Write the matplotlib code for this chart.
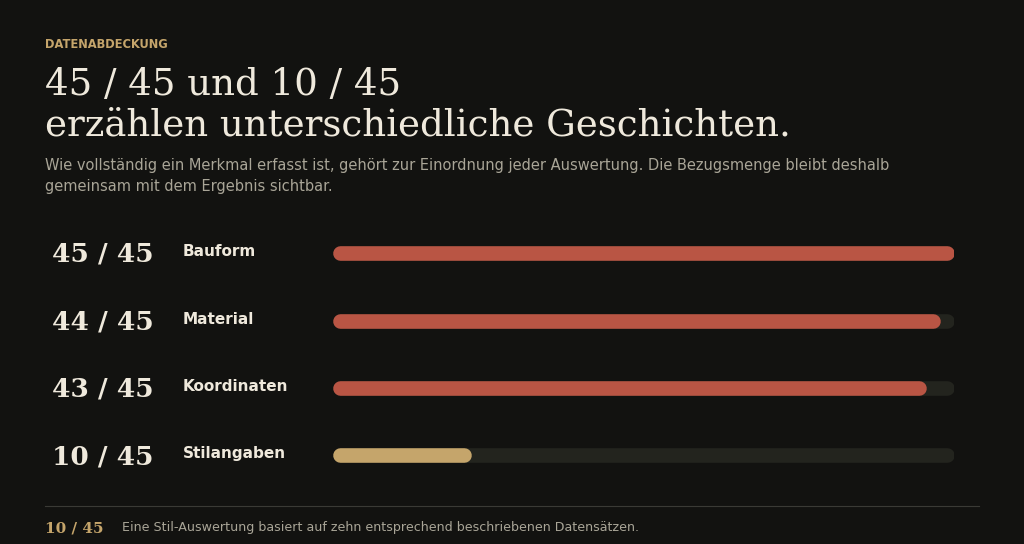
import matplotlib.pyplot as plt
from matplotlib.transforms import blended_transform_factory

plt.rcParams["font.family"] = "DejaVu Sans"

# daten
merkmale = ["Bauform", "Material", "Koordinaten", "Stilangaben"]
erfasst = [45, 44, 43, 10]
gesamt = 45
farben = ["#b95544", "#b95544", "#b95544", "#c5a56b"]

bg = "#121210"
creme = "#efe9dc"
grau = "#a9a597"
gold = "#c5a56b"
spur = "#23241e"

fig = plt.figure(figsize=(10.24, 5.44), dpi=100, facecolor=bg)

# kopfzeile
fig.text(45/1024, 1-44/544, "DATENABDECKUNG", color=gold, fontsize=8.3,
         fontweight="bold", va="center", ha="left")
fig.text(45/1024, 1-95/544, "45 / 45 und 10 / 45", color=creme, fontsize=26.7,
         family="DejaVu Serif", va="baseline")
fig.text(45/1024, 1-136/544, "erzählen unterschiedliche Geschichten.", color=creme,
         fontsize=26.7, family="DejaVu Serif", va="baseline")
fig.text(45/1024, 1-170/544,
         "Wie vollständig ein Merkmal erfasst ist, gehört zur Einordnung jeder Auswertung. "
         "Die Bezugsmenge bleibt deshalb", color=grau, fontsize=10.5, va="baseline")
fig.text(45/1024, 1-191/544, "gemeinsam mit dem Ergebnis sichtbar.", color=grau,
         fontsize=10.5, va="baseline")

# balken
ax = fig.add_axes([333/1024, 1-489/544, 621/1024, 269.5/544])
ax.set_facecolor(bg)
ax.set_xlim(0, gesamt)
ax.set_ylim(len(merkmale) - 0.5, -0.5)
ax.axis("off")

lw = 10.5  # punkte
fig.canvas.draw()
px_pro_einheit = ax.transData.transform((1, 0))[0] - ax.transData.transform((0, 0))[0]
r = (lw / 72 * fig.dpi / 2) / px_pro_einheit

trans = blended_transform_factory(fig.transFigure, ax.transData)
for i, (name, wert, farbe) in enumerate(zip(merkmale, erfasst, farben)):
    ax.plot([r, gesamt - r], [i, i], color=spur, lw=lw, solid_capstyle="round")
    ax.plot([r, wert - r], [i, i], color=farbe, lw=lw, solid_capstyle="round")
    ax.annotate(f"{wert} / {gesamt}", xy=(52/1024, i), xycoords=trans,
                xytext=(0, -6.3), textcoords="offset points", color=creme,
                fontsize=19, fontweight="bold", family="DejaVu Serif",
                va="baseline", ha="left", annotation_clip=False)
    ax.annotate(name, xy=(183/1024, i), xycoords=trans,
                xytext=(0, -2.2), textcoords="offset points", color=creme,
                fontsize=11, fontweight="bold", va="baseline", ha="left",
                annotation_clip=False)

# fusszeile
fig.add_artist(plt.Line2D([45/1024, 979/1024], [1-506/544, 1-506/544],
                          color="#3a3a35", lw=0.8))
fig.text(45/1024, 1-532/544, f"{erfasst[-1]} / {gesamt}", color=gold, fontsize=11,
         fontweight="bold", family="DejaVu Serif", va="baseline")
fig.text(122/1024, 1-531/544,
         "Eine Stil-Auswertung basiert auf zehn entsprechend beschriebenen Datensätzen.",
         color=grau, fontsize=9.1, va="baseline")

fig.savefig("out.png", dpi=100, facecolor=bg)
